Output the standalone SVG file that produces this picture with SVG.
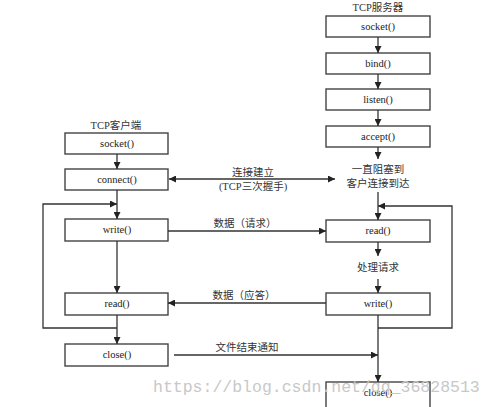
<svg xmlns="http://www.w3.org/2000/svg" width="494" height="407" viewBox="0 0 494 407">
<style>
.box{fill:#fff;stroke:#444;stroke-width:1.4}
.t{font-family:"Liberation Serif",serif;font-size:10.5px;fill:#222;text-anchor:middle}
.c{font-family:"Liberation Serif","Noto Sans CJK SC",serif;font-size:10.5px;fill:#333;text-anchor:middle}
.ln{fill:none;stroke:#333;stroke-width:1.3}
.wm{font-family:"Liberation Mono",monospace;font-size:16.5px;fill:#c8c8c8}
</style>
<defs>
<marker id="ah" viewBox="0 0 10 10" refX="10" refY="5" markerWidth="7" markerHeight="7" markerUnits="userSpaceOnUse" orient="auto-start-reverse">
<path d="M0,0 L10,5 L0,10 z" fill="#222"/>
</marker>
</defs>
<rect width="494" height="407" fill="#fff"/>
<text class="c" x="378" y="11">TCP服务器</text>
<text class="c" x="116" y="129">TCP客户端</text>
<g id="s_socket"><rect class="box" x="326" y="16" width="104" height="21"/><text class="t" x="378" y="30">socket()</text></g>
<g id="s_bind"><rect class="box" x="326" y="53" width="104" height="21"/><text class="t" x="378" y="67">bind()</text></g>
<g id="s_listen"><rect class="box" x="326" y="89" width="104" height="21"/><text class="t" x="378" y="103">listen()</text></g>
<g id="s_accept"><rect class="box" x="326" y="126" width="104" height="21"/><text class="t" x="378" y="140">accept()</text></g>
<g id="s_block"><text class="c" x="378" y="173">一直阻塞到</text><text class="c" x="378" y="187">客户连接到达</text></g>
<g id="s_read"><rect class="box" x="326" y="220" width="104" height="22"/><text class="t" x="378" y="234">read()</text></g>
<g id="s_proc"><text class="c" x="378" y="271">处理请求</text></g>
<g id="s_write"><rect class="box" x="326" y="293" width="104" height="22"/><text class="t" x="378" y="307">write()</text></g>
<g id="s_close"><rect class="box" x="326" y="382" width="104" height="30"/><text class="t" x="378" y="396">close()</text></g>
<g id="c_socket"><rect class="box" x="65" y="133" width="103" height="21"/><text class="t" x="117" y="147">socket()</text></g>
<g id="c_connect"><rect class="box" x="65" y="169" width="103" height="21"/><text class="t" x="117" y="183">connect()</text></g>
<g id="c_write"><rect class="box" x="65" y="219" width="103" height="22"/><text class="t" x="117" y="233">write()</text></g>
<g id="c_read"><rect class="box" x="65" y="293" width="103" height="22"/><text class="t" x="117" y="307">read()</text></g>
<g id="c_close"><rect class="box" x="65" y="344" width="103" height="22"/><text class="t" x="117" y="358">close()</text></g>
<g id="connectors">
<line class="ln" x1="378" y1="37" x2="378" y2="53" marker-end="url(#ah)"/>
<line class="ln" x1="378" y1="74" x2="378" y2="89" marker-end="url(#ah)"/>
<line class="ln" x1="378" y1="110" x2="378" y2="126" marker-end="url(#ah)"/>
<line class="ln" x1="378" y1="147" x2="378" y2="159" marker-end="url(#ah)"/>
<line class="ln" x1="378" y1="192" x2="378" y2="220" marker-end="url(#ah)"/>
<polyline class="ln" points="378,328 452,328 452,206 378,206" marker-end="url(#ah)"/>
<line class="ln" x1="378" y1="242" x2="378" y2="256" marker-end="url(#ah)"/>
<line class="ln" x1="378" y1="279" x2="378" y2="293" marker-end="url(#ah)"/>
<line class="ln" x1="378" y1="315" x2="378" y2="382" marker-end="url(#ah)"/>
<line class="ln" x1="117" y1="154" x2="117" y2="169" marker-end="url(#ah)"/>
<line class="ln" x1="117" y1="190" x2="117" y2="219" marker-end="url(#ah)"/>
<polyline class="ln" points="117,328 43,328 43,204 117,204" marker-end="url(#ah)"/>
<line class="ln" x1="117" y1="241" x2="117" y2="293" marker-end="url(#ah)"/>
<line class="ln" x1="117" y1="315" x2="117" y2="344" marker-end="url(#ah)"/>
<line class="ln" x1="169" y1="179" x2="335" y2="179" marker-start="url(#ah)" marker-end="url(#ah)"/>
<line class="ln" x1="168" y1="231" x2="326" y2="231" marker-end="url(#ah)"/>
<line class="ln" x1="326" y1="303" x2="168" y2="303" marker-end="url(#ah)"/>
<line class="ln" x1="174" y1="355" x2="378" y2="355" marker-end="url(#ah)"/>
<text class="c" x="253" y="176">连接建立</text>
<text class="c" x="253" y="190">(TCP三次握手)</text>
<text class="c" x="245" y="227">数据（请求）</text>
<text class="c" x="244" y="299">数据（应答）</text>
<text class="c" x="247" y="351">文件结束通知</text>
</g>
<text class="wm" x="153" y="392">https://blog.csdn.net/qq_36828513</text>
</svg>
